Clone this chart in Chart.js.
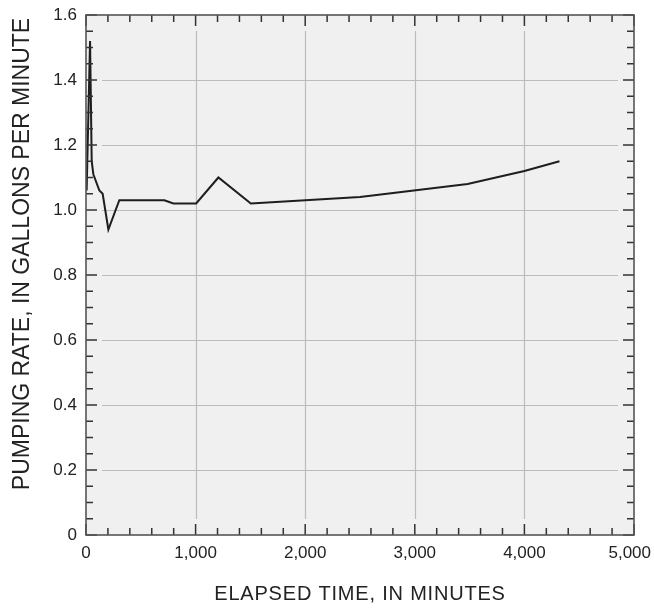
<!DOCTYPE html>
<html>
<head>
<meta charset="utf-8">
<script src="https://cdn.jsdelivr.net/npm/chart.js@4.4.0/dist/chart.umd.min.js"></script>
<style>
  html, body { margin: 0; padding: 0; background: #fff; }
  #grafico { display: block; }
</style>
</head>
<body>
<canvas id="grafico" width="654" height="609"></canvas>
<script>
// Datos
const tiempoMin = [6, 37, 52, 67, 122, 152, 204, 304, 715, 797, 1005, 1208, 1504, 2500, 3482, 4000, 4320]
const caudalGpm = [1.06, 1.52, 1.15, 1.11, 1.06, 1.05, 0.94, 1.03, 1.03, 1.02, 1.02, 1.10, 1.02, 1.04, 1.08, 1.12, 1.15]
const ticksX = [0, 1000, 2000, 3000, 4000, 5000]
const ticksY = [0, 0.2, 0.4, 0.6, 0.8, 1.0, 1.2, 1.4, 1.6]
const menorX = 200 // marcas menores en X
const menorY = 0.05 // marcas menores en Y

const tituloX = 'ELAPSED TIME, IN MINUTES'
const tituloY = 'PUMPING RATE, IN GALLONS PER MINUTE'

const fuente = '"Liberation Sans", Arial, Helvetica, sans-serif'

// Fondo, cuadricula, marco y marcas hacia adentro
const marcoPlugin = {
  id: 'marco',
  beforeDatasetsDraw(chart) {
    const { ctx, chartArea: a, scales: { x, y } } = chart
    ctx.save()
    ctx.fillStyle = '#f0f0f0'
    ctx.fillRect(a.left, a.top, a.right - a.left, a.bottom - a.top)
    ctx.strokeStyle = '#bcbcbc'
    ctx.lineWidth = 1.2
    ticksX.slice(1, -1).forEach(v => {
      const px = Math.round(x.getPixelForValue(v)) + 0.5
      ctx.beginPath()
      ctx.moveTo(px, a.top + 16)
      ctx.lineTo(px, a.bottom - 16)
      ctx.stroke()
    })
    ticksY.slice(1, -1).forEach(v => {
      const py = Math.round(y.getPixelForValue(v)) + 0.5
      ctx.beginPath()
      ctx.moveTo(a.left + 16, py)
      ctx.lineTo(a.right - 16, py)
      ctx.stroke()
    })
    ctx.restore()
  },
  afterDatasetsDraw(chart) {
    const { ctx, chartArea: a, scales: { x, y } } = chart
    ctx.save()
    ctx.strokeStyle = '#333'
    ctx.lineWidth = 1.5
    // marcas en X (abajo y arriba)
    for (let v = ticksX[0]; v <= ticksX[ticksX.length - 1] + 1; v += menorX) {
      const largo = (v % 1000 === 0) ? 11 : 7
      const px = x.getPixelForValue(v)
      ctx.beginPath()
      ctx.moveTo(px, a.bottom); ctx.lineTo(px, a.bottom - largo)
      ctx.moveTo(px, a.top); ctx.lineTo(px, a.top + largo)
      ctx.stroke()
    }
    // marcas en Y (izquierda y derecha)
    for (let i = 0; i * menorY <= 1.6001; i++) {
      const v = i * menorY
      const largo = (i % 4 === 0) ? 11 : 7
      const py = y.getPixelForValue(v)
      ctx.beginPath()
      ctx.moveTo(a.left, py); ctx.lineTo(a.left + largo, py)
      ctx.moveTo(a.right, py); ctx.lineTo(a.right - largo, py)
      ctx.stroke()
    }
    // marco
    ctx.strokeStyle = '#555'
    ctx.lineWidth = 1.6
    ctx.strokeRect(a.left, a.top, a.right - a.left, a.bottom - a.top)

    // titulos de los ejes
    ctx.fillStyle = '#222'
    ctx.textAlign = 'center'
    ctx.textBaseline = 'middle'
    ctx.font = '20px ' + fuente
    ctx.letterSpacing = '0.8px'
    ctx.fillText(tituloX, (a.left + a.right) / 2, 594)
    ctx.letterSpacing = '0px'
    ctx.font = '23px ' + fuente
    ctx.translate(23, 254)
    ctx.rotate(-Math.PI / 2)
    ctx.fillText(tituloY, 0, 0)
    ctx.restore()
  }
}

const ctx = document.getElementById('grafico').getContext('2d')
const chart = new Chart(ctx, {
  type: 'line',
  data: {
    datasets: [{
      data: tiempoMin.map((t, i) => ({ x: t, y: caudalGpm[i] })),
      borderColor: '#1e1e1e',
      borderWidth: 2,
      pointRadius: 0,
      tension: 0,
      fill: false
    }]
  },
  options: {
    responsive: false,
    animation: false,
    events: [],
    layout: { padding: { top: 15, right: 20, left: 0, bottom: 0 } },
    plugins: { legend: { display: false }, tooltip: { enabled: false } },
    scales: {
      x: {
        type: 'linear',
        min: 0,
        max: 5000,
        afterBuildTicks: s => { s.ticks = ticksX.map(v => ({ value: v })) },
        afterFit: s => { s.height = 74; s.paddingLeft = 0; s.paddingRight = 0 },
        grid: { display: false, drawTicks: false },
        border: { display: false },
        ticks: {
          padding: 8,
          color: '#222',
          font: { family: fuente, size: 17 },
          maxRotation: 0,
          // la ultima etiqueta se corre un poco a la izquierda para que quepa
          callback: v => v.toLocaleString('en-US') + (v === 5000 ? '\u2002' : '')
        }
      },
      y: {
        min: 0,
        max: 1.6,
        afterBuildTicks: s => { s.ticks = ticksY.map(v => ({ value: v })) },
        afterFit: s => { s.width = 86; s.paddingTop = 0; s.paddingBottom = 0 },
        grid: { display: false, drawTicks: false },
        border: { display: false },
        ticks: {
          padding: 9,
          color: '#222',
          font: { family: fuente, size: 17 },
          callback: v => v === 0 ? '0' : v.toFixed(1)
        }
      }
    }
  },
  plugins: [marcoPlugin]
})
</script>
</body>
</html>
